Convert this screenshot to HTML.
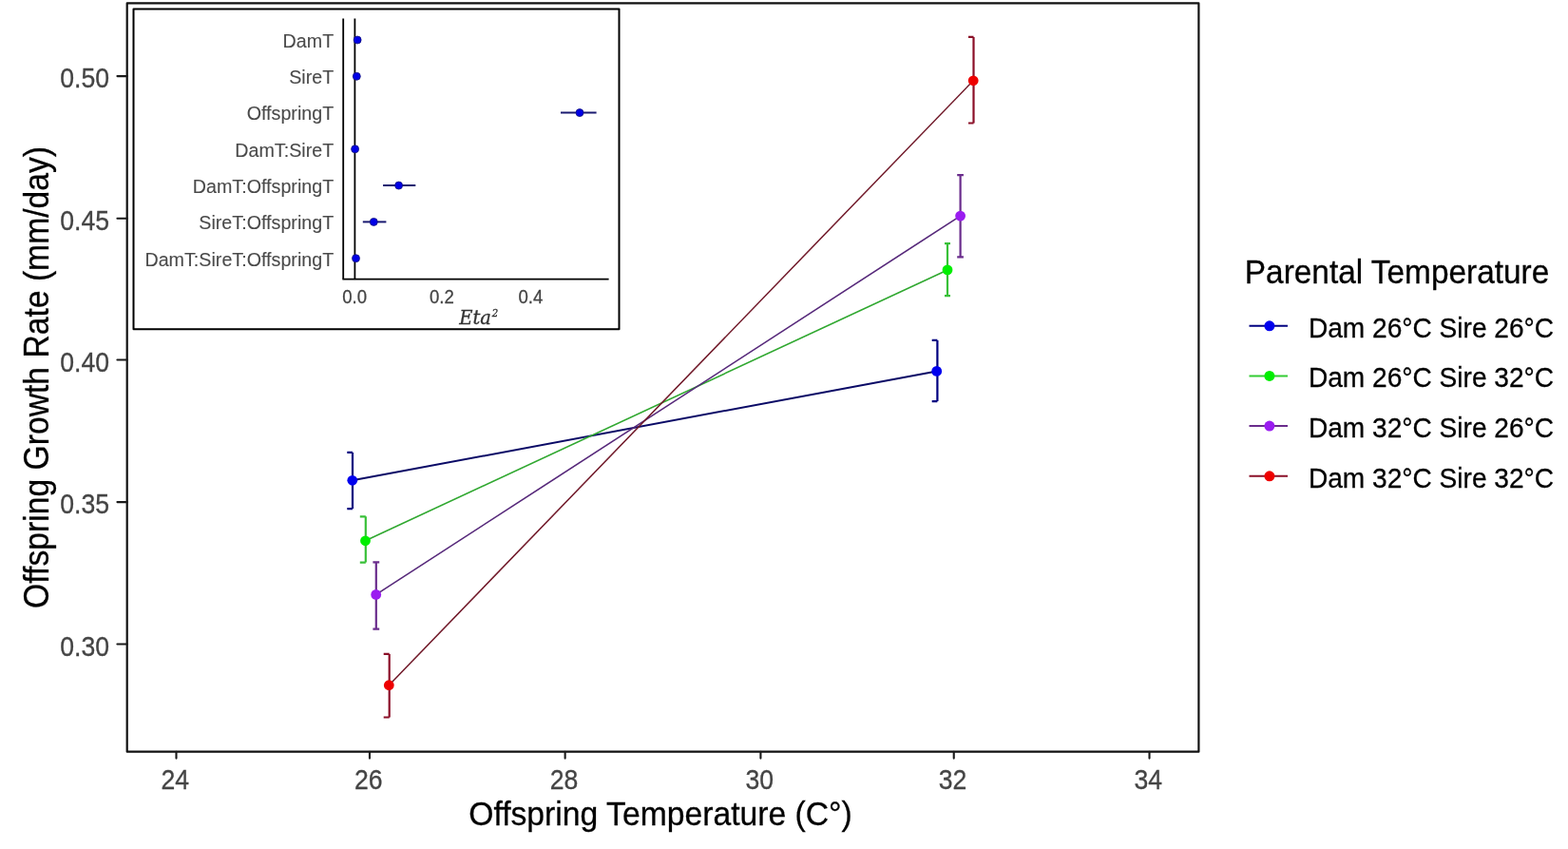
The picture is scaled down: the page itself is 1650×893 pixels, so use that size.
<!DOCTYPE html><html><head><meta charset="utf-8"><title>Offspring Growth Rate</title><style>html,body{margin:0;padding:0;background:#fff;}svg{display:block;}text{font-family:"Liberation Sans",Arial,sans-serif;}</style></head><body>
<svg width="1650" height="893" viewBox="0 0 1650 893">
<rect x="0" y="0" width="1650" height="893" fill="#fff"/>
<rect x="133.7" y="3.4" width="1127.7" height="787.3" fill="none" stroke="#111" stroke-width="2.2" stroke-linejoin="round"/>
<line x1="123.4" y1="80.08" x2="133.7" y2="80.08" stroke="#1a1a1a" stroke-width="2.1" stroke-linecap="round"/>
<text transform="translate(115.00,92.38) scale(1,1.09)" font-size="26.6" fill="#444" stroke="#444" stroke-width="0.28" text-anchor="end">0.50</text>
<line x1="123.4" y1="229.74" x2="133.7" y2="229.74" stroke="#1a1a1a" stroke-width="2.1" stroke-linecap="round"/>
<text transform="translate(115.00,242.04) scale(1,1.09)" font-size="26.6" fill="#444" stroke="#444" stroke-width="0.28" text-anchor="end">0.45</text>
<line x1="123.4" y1="378.52" x2="133.7" y2="378.52" stroke="#1a1a1a" stroke-width="2.1" stroke-linecap="round"/>
<text transform="translate(115.00,390.82) scale(1,1.09)" font-size="26.6" fill="#444" stroke="#444" stroke-width="0.28" text-anchor="end">0.40</text>
<line x1="123.4" y1="528.08" x2="133.7" y2="528.08" stroke="#1a1a1a" stroke-width="2.1" stroke-linecap="round"/>
<text transform="translate(115.00,540.38) scale(1,1.09)" font-size="26.6" fill="#444" stroke="#444" stroke-width="0.28" text-anchor="end">0.35</text>
<line x1="123.4" y1="677.53" x2="133.7" y2="677.53" stroke="#1a1a1a" stroke-width="2.1" stroke-linecap="round"/>
<text transform="translate(115.00,689.83) scale(1,1.09)" font-size="26.6" fill="#444" stroke="#444" stroke-width="0.28" text-anchor="end">0.30</text>
<line x1="185.50" y1="790.7" x2="185.50" y2="797.6" stroke="#1a1a1a" stroke-width="2.1" stroke-linecap="round"/>
<text transform="translate(184.30,830.20) scale(1,1.09)" font-size="26.6" fill="#444" stroke="#444" stroke-width="0.28" text-anchor="middle">24</text>
<line x1="388.96" y1="790.7" x2="388.96" y2="797.6" stroke="#1a1a1a" stroke-width="2.1" stroke-linecap="round"/>
<text transform="translate(387.76,830.20) scale(1,1.09)" font-size="26.6" fill="#444" stroke="#444" stroke-width="0.28" text-anchor="middle">26</text>
<line x1="594.63" y1="790.7" x2="594.63" y2="797.6" stroke="#1a1a1a" stroke-width="2.1" stroke-linecap="round"/>
<text transform="translate(593.43,830.20) scale(1,1.09)" font-size="26.6" fill="#444" stroke="#444" stroke-width="0.28" text-anchor="middle">28</text>
<line x1="800.41" y1="790.7" x2="800.41" y2="797.6" stroke="#1a1a1a" stroke-width="2.1" stroke-linecap="round"/>
<text transform="translate(799.21,830.20) scale(1,1.09)" font-size="26.6" fill="#444" stroke="#444" stroke-width="0.28" text-anchor="middle">30</text>
<line x1="1003.73" y1="790.7" x2="1003.73" y2="797.6" stroke="#1a1a1a" stroke-width="2.1" stroke-linecap="round"/>
<text transform="translate(1002.53,830.20) scale(1,1.09)" font-size="26.6" fill="#444" stroke="#444" stroke-width="0.28" text-anchor="middle">32</text>
<line x1="1209.52" y1="790.7" x2="1209.52" y2="797.6" stroke="#1a1a1a" stroke-width="2.1" stroke-linecap="round"/>
<text transform="translate(1208.32,830.20) scale(1,1.09)" font-size="26.6" fill="#444" stroke="#444" stroke-width="0.28" text-anchor="middle">34</text>
<text transform="translate(695.00,867.80) scale(1,1.05)" font-size="33.7" fill="#000" stroke="#000" stroke-width="0.28" text-anchor="middle">Offspring Temperature (C°)</text>
<text transform="translate(50.80,396.90) rotate(-90) scale(1,1.07)" font-size="33.7" fill="#000" stroke="#000" stroke-width="0.28" text-anchor="middle">Offspring Growth Rate (mm/day)</text>
<line x1="370.8" y1="505.3" x2="985.7" y2="390.4" stroke="#0a0a66" stroke-width="2.0"/>
<path d="M365.3 475.9H371M371 475.9V535.1M365.3 535.1H371" fill="none" stroke="#000080" stroke-width="2.2"/>
<path d="M980.7 357.9H986.4M986.4 357.9V422.1M980.7 422.1H986.4" fill="none" stroke="#000080" stroke-width="2.2"/>
<line x1="384.5" y1="568.8" x2="997.0" y2="283.9" stroke="#30a830" stroke-width="1.6"/>
<path d="M378.8 543.3H384.8M384.8 543.3V591.6M378.8 591.6H384.8" fill="none" stroke="#38c038" stroke-width="2.2"/>
<path d="M994 256.1H1000M997.0 256.1V311.1M994 311.1H1000" fill="none" stroke="#38c038" stroke-width="2.2"/>
<line x1="395.7" y1="625.4" x2="1010.6" y2="227.1" stroke="#56287a" stroke-width="1.6"/>
<path d="M392.4 591.3H399.2M395.8 591.3V661.7M392.4 661.7H399.2" fill="none" stroke="#6a2c8c" stroke-width="2.2"/>
<path d="M1007.2 184.2H1013.9M1010.6 184.2V270.3M1007.2 270.3H1013.9" fill="none" stroke="#6a2c8c" stroke-width="2.2"/>
<line x1="409.3" y1="720.7" x2="1024.2" y2="84.8" stroke="#701828" stroke-width="1.5"/>
<path d="M403.7 687.9H409.7M409.7 687.9V754.5M403.7 754.5H409.7" fill="none" stroke="#8b1028" stroke-width="2.2"/>
<path d="M1019 38.9H1024.5M1024.5 38.9V129.5M1019 129.5H1024.5" fill="none" stroke="#8b1028" stroke-width="2.2"/>
<circle cx="370.8" cy="505.3" r="5.4" fill="#0000ee"/>
<circle cx="985.7" cy="390.4" r="5.4" fill="#0000ee"/>
<circle cx="384.5" cy="568.8" r="5.4" fill="#00ee00"/>
<circle cx="997.0" cy="283.9" r="5.4" fill="#00ee00"/>
<circle cx="395.7" cy="625.4" r="5.4" fill="#9a1cf0"/>
<circle cx="1010.6" cy="227.1" r="5.4" fill="#9a1cf0"/>
<circle cx="409.3" cy="720.7" r="5.4" fill="#ee0000"/>
<circle cx="1024.2" cy="84.8" r="5.4" fill="#ee0000"/>
<rect x="140.5" y="9.6" width="511" height="336.6" fill="#fff" stroke="#000" stroke-width="2" stroke-linejoin="round"/>
<line x1="361.2" y1="19.6" x2="361.2" y2="293.6" stroke="#000" stroke-width="1.8"/>
<line x1="360.4" y1="293.6" x2="640.6" y2="293.6" stroke="#000" stroke-width="1.8"/>
<line x1="373.4" y1="19.6" x2="373.4" y2="293.6" stroke="#000" stroke-width="1.8"/>
<text transform="translate(351.20,49.90) scale(1,1.05)" font-size="19.7" fill="#4a4a4a" stroke="#4a4a4a" stroke-width="0.1" text-anchor="end">DamT</text>
<circle cx="376.1" cy="42.0" r="4.0" fill="#0000e6" stroke="#14147a" stroke-width="0.8"/>
<text transform="translate(351.20,88.18) scale(1,1.05)" font-size="19.7" fill="#4a4a4a" stroke="#4a4a4a" stroke-width="0.1" text-anchor="end">SireT</text>
<circle cx="375.3" cy="80.3" r="4.0" fill="#0000e6" stroke="#14147a" stroke-width="0.8"/>
<text transform="translate(351.20,126.46) scale(1,1.05)" font-size="19.7" fill="#4a4a4a" stroke="#4a4a4a" stroke-width="0.1" text-anchor="end">OffspringT</text>
<line x1="590" y1="118.6" x2="627.6" y2="118.6" stroke="#1a1a70" stroke-width="2"/>
<circle cx="610" cy="118.6" r="4.0" fill="#0000e6" stroke="#14147a" stroke-width="0.8"/>
<text transform="translate(351.20,164.74) scale(1,1.05)" font-size="19.7" fill="#4a4a4a" stroke="#4a4a4a" stroke-width="0.1" text-anchor="end">DamT:SireT</text>
<circle cx="373.6" cy="156.8" r="4.0" fill="#0000e6" stroke="#14147a" stroke-width="0.8"/>
<text transform="translate(351.20,203.02) scale(1,1.05)" font-size="19.7" fill="#4a4a4a" stroke="#4a4a4a" stroke-width="0.1" text-anchor="end">DamT:OffspringT</text>
<line x1="403.1" y1="195.1" x2="437.3" y2="195.1" stroke="#1a1a70" stroke-width="2"/>
<circle cx="419.6" cy="195.1" r="4.0" fill="#0000e6" stroke="#14147a" stroke-width="0.8"/>
<text transform="translate(351.20,241.30) scale(1,1.05)" font-size="19.7" fill="#4a4a4a" stroke="#4a4a4a" stroke-width="0.1" text-anchor="end">SireT:OffspringT</text>
<line x1="381.8" y1="233.4" x2="406.4" y2="233.4" stroke="#1a1a70" stroke-width="2"/>
<circle cx="393.3" cy="233.4" r="4.0" fill="#0000e6" stroke="#14147a" stroke-width="0.8"/>
<text transform="translate(351.20,279.58) scale(1,1.05)" font-size="19.7" fill="#4a4a4a" stroke="#4a4a4a" stroke-width="0.1" text-anchor="end">DamT:SireT:OffspringT</text>
<circle cx="374.5" cy="271.7" r="4.0" fill="#0000e6" stroke="#14147a" stroke-width="0.8"/>
<text transform="translate(373.20,319.40) scale(1,1.05)" font-size="18.6" fill="#444" stroke="#444" stroke-width="0.25" text-anchor="middle">0.0</text>
<text transform="translate(464.90,319.40) scale(1,1.05)" font-size="18.6" fill="#444" stroke="#444" stroke-width="0.25" text-anchor="middle">0.2</text>
<text transform="translate(558.40,319.40) scale(1,1.05)" font-size="18.6" fill="#444" stroke="#444" stroke-width="0.25" text-anchor="middle">0.4</text>
<text transform="translate(483.3,340.7) scale(1,1.05)" font-size="19.5" fill="#333" stroke="#333" stroke-width="0.3" style="font-family:'DejaVu Serif',serif;font-style:italic">Eta<tspan font-size="10.2" dx="0.8" dy="-7.0">2</tspan></text>
<text transform="translate(1309.80,298.20) scale(1,1.05)" font-size="33.4" fill="#000" stroke="#000" stroke-width="0.28" text-anchor="start">Parental Temperature</text>
<line x1="1314.5" y1="342.8" x2="1355" y2="342.8" stroke="#000080" stroke-width="2"/>
<circle cx="1335.9" cy="342.8" r="5.5" fill="#0000ee"/>
<text transform="translate(1376.90,354.80) scale(1,1.03)" font-size="28.1" fill="#000" stroke="#000" stroke-width="0.28" text-anchor="start">Dam 26°C Sire 26°C</text>
<line x1="1314.5" y1="395.4" x2="1355" y2="395.4" stroke="#33cc33" stroke-width="2"/>
<circle cx="1335.9" cy="395.4" r="5.5" fill="#00ee00"/>
<text transform="translate(1376.90,407.45) scale(1,1.03)" font-size="28.1" fill="#000" stroke="#000" stroke-width="0.28" text-anchor="start">Dam 26°C Sire 32°C</text>
<line x1="1314.5" y1="448.1" x2="1355" y2="448.1" stroke="#6a2c8c" stroke-width="2"/>
<circle cx="1335.9" cy="448.1" r="5.5" fill="#9a1cf0"/>
<text transform="translate(1376.90,460.10) scale(1,1.03)" font-size="28.1" fill="#000" stroke="#000" stroke-width="0.28" text-anchor="start">Dam 32°C Sire 26°C</text>
<line x1="1314.5" y1="500.8" x2="1355" y2="500.8" stroke="#8b1028" stroke-width="2"/>
<circle cx="1335.9" cy="500.8" r="5.5" fill="#ee0000"/>
<text transform="translate(1376.90,512.75) scale(1,1.03)" font-size="28.1" fill="#000" stroke="#000" stroke-width="0.28" text-anchor="start">Dam 32°C Sire 32°C</text>
</svg></body></html>
